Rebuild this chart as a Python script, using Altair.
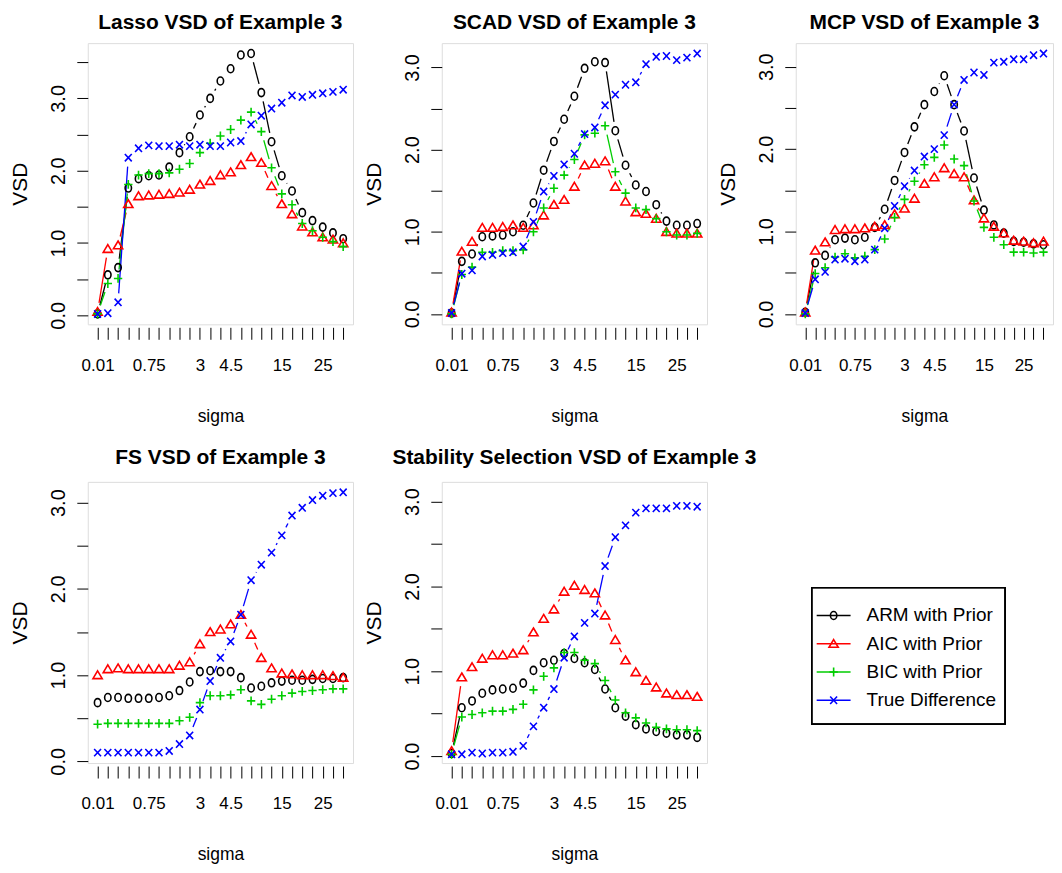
import math
import altair as alt
import pandas as pd

SERIES = ["ARM with Prior", "AIC with Prior", "BIC with Prior", "True Difference"]
COLORS = ["#000000", "#FF0000", "#00CD00", "#0000FF"]
SHAPES = [
    "M-0.8,0A0.8,1 0 1,0 0.8,0A0.8,1 0 1,0 -0.8,0Z",
    "M0,-1L1.1,0.85L-1.1,0.85Z",
    "M-0.95,0L0.95,0M0,-1L0,1",
    "M-0.75,-0.8L0.75,0.8M-0.75,0.8L0.75,-0.8",
]
SIZES = [64, 85, 100, 81]

# tick labels at the 25 sigma positions (only those R printed)
tick_labels = ["0.01", "", "", "", "", "0.75", "", "", "", "", "3", "", "", "4.5",
               "", "", "", "", "15", "", "", "", "25", "", ""]

lasso_arm = [0.02, 0.56, 0.66, 1.76, 1.89, 1.93, 1.94, 2.05, 2.25, 2.47, 2.77, 3.00, 3.24, 3.41, 3.60, 3.62, 3.08, 2.40, 1.93, 1.72, 1.42, 1.31, 1.22, 1.14, 1.06]
lasso_aic = [0.05, 0.92, 0.97, 1.54, 1.65, 1.66, 1.67, 1.68, 1.70, 1.74, 1.81, 1.86, 1.94, 1.98, 2.08, 2.19, 2.11, 1.79, 1.54, 1.40, 1.23, 1.15, 1.08, 1.05, 1.00]
lasso_bic = [0.02, 0.44, 0.51, 1.81, 1.94, 1.96, 1.96, 1.97, 2.02, 2.10, 2.25, 2.38, 2.48, 2.57, 2.70, 2.81, 2.54, 2.04, 1.68, 1.53, 1.27, 1.17, 1.08, 1.02, 0.95]
lasso_true = [0.02, 0.03, 0.18, 2.18, 2.31, 2.35, 2.34, 2.34, 2.36, 2.34, 2.36, 2.34, 2.34, 2.39, 2.41, 2.64, 2.76, 2.86, 2.94, 3.04, 3.02, 3.05, 3.07, 3.09, 3.12]

scad_arm = [0.01, 0.64, 0.73, 0.94, 0.95, 0.96, 1.00, 1.08, 1.35, 1.75, 2.10, 2.37, 2.65, 2.99, 3.07, 3.06, 2.23, 1.81, 1.57, 1.49, 1.33, 1.13, 1.08, 1.08, 1.10]
scad_aic = [0.02, 0.76, 0.88, 1.05, 1.05, 1.06, 1.08, 1.05, 1.08, 1.20, 1.33, 1.39, 1.55, 1.81, 1.83, 1.86, 1.55, 1.37, 1.24, 1.22, 1.16, 1.00, 0.98, 0.98, 0.98]
scad_bic = [0.00, 0.48, 0.57, 0.75, 0.75, 0.77, 0.77, 0.78, 1.00, 1.29, 1.53, 1.69, 1.88, 2.18, 2.20, 2.29, 1.73, 1.47, 1.29, 1.27, 1.16, 1.00, 0.96, 0.96, 0.98]
scad_true = [0.01, 0.49, 0.53, 0.70, 0.72, 0.74, 0.75, 0.82, 1.12, 1.49, 1.68, 1.82, 1.95, 2.19, 2.27, 2.54, 2.67, 2.79, 2.82, 3.04, 3.13, 3.14, 3.09, 3.12, 3.17]

mcp_arm = [0.02, 0.62, 0.71, 0.90, 0.92, 0.90, 0.93, 1.05, 1.27, 1.62, 1.96, 2.27, 2.54, 2.70, 2.89, 2.54, 2.22, 1.65, 1.26, 1.08, 0.98, 0.88, 0.87, 0.85, 0.84]
mcp_aic = [0.02, 0.77, 0.87, 1.02, 1.03, 1.03, 1.04, 1.06, 1.08, 1.21, 1.28, 1.40, 1.58, 1.66, 1.77, 1.70, 1.66, 1.38, 1.16, 1.06, 0.98, 0.89, 0.88, 0.86, 0.88]
mcp_bic = [0.00, 0.49, 0.56, 0.69, 0.73, 0.68, 0.70, 0.78, 0.91, 1.17, 1.39, 1.61, 1.81, 1.90, 2.05, 1.88, 1.80, 1.37, 1.05, 0.93, 0.84, 0.75, 0.75, 0.74, 0.75]
mcp_true = [0.01, 0.42, 0.51, 0.66, 0.67, 0.64, 0.66, 0.78, 1.04, 1.31, 1.55, 1.74, 1.91, 2.00, 2.17, 2.54, 2.84, 2.93, 2.90, 3.05, 3.06, 3.09, 3.09, 3.14, 3.16]

fs_arm = [0.68, 0.74, 0.74, 0.73, 0.73, 0.73, 0.74, 0.76, 0.82, 0.92, 1.04, 1.05, 1.04, 1.04, 0.97, 0.85, 0.87, 0.91, 0.93, 0.94, 0.94, 0.95, 0.96, 0.96, 0.97]
fs_aic = [1.00, 1.07, 1.08, 1.07, 1.07, 1.07, 1.07, 1.07, 1.11, 1.15, 1.36, 1.50, 1.53, 1.59, 1.70, 1.47, 1.20, 1.08, 1.02, 1.01, 1.00, 1.00, 1.00, 0.99, 0.97]
fs_bic = [0.43, 0.44, 0.44, 0.44, 0.44, 0.44, 0.44, 0.44, 0.47, 0.51, 0.68, 0.76, 0.76, 0.77, 0.83, 0.70, 0.66, 0.72, 0.76, 0.79, 0.81, 0.82, 0.83, 0.84, 0.84]
fs_true = [0.10, 0.10, 0.10, 0.10, 0.10, 0.10, 0.10, 0.12, 0.20, 0.30, 0.60, 0.93, 1.20, 1.39, 1.70, 2.10, 2.28, 2.42, 2.62, 2.85, 2.94, 3.03, 3.08, 3.11, 3.12]

ss_arm = [0.03, 0.57, 0.65, 0.74, 0.78, 0.79, 0.80, 0.86, 1.01, 1.10, 1.13, 1.21, 1.15, 1.10, 1.02, 0.79, 0.57, 0.47, 0.37, 0.32, 0.29, 0.27, 0.25, 0.25, 0.22]
ss_aic = [0.06, 0.93, 1.05, 1.15, 1.19, 1.19, 1.21, 1.25, 1.46, 1.62, 1.73, 1.94, 2.01, 1.96, 1.92, 1.66, 1.37, 1.13, 0.99, 0.89, 0.81, 0.74, 0.72, 0.72, 0.70]
ss_bic = [0.02, 0.46, 0.49, 0.51, 0.53, 0.53, 0.55, 0.61, 0.78, 0.94, 1.04, 1.22, 1.22, 1.13, 1.09, 0.89, 0.66, 0.51, 0.45, 0.39, 0.34, 0.32, 0.31, 0.31, 0.30]
ss_true = [0.02, 0.02, 0.04, 0.03, 0.04, 0.04, 0.05, 0.12, 0.35, 0.57, 0.79, 1.16, 1.41, 1.57, 1.68, 2.24, 2.58, 2.72, 2.87, 2.92, 2.92, 2.92, 2.95, 2.95, 2.94]
ss_ylim = [0.04, 3.11]  # y range used by the Stability Selection panel

FONT = "Liberation Sans, Arial, sans-serif"
H = 282
GAP = 9.0

color_scale = alt.Scale(domain=SERIES, range=COLORS)
shape_scale = alt.Scale(domain=SERIES, range=SHAPES)
size_scale = alt.Scale(domain=SERIES, range=SIZES)


def panel(title, values, width, toff, ylim=None):
    n = len(tick_labels)
    rows = []
    for s, vals in zip(SERIES, values):
        for i, v in enumerate(vals):
            rows.append({"series": s, "idx": i + 1, "vsd": v})
    pts = pd.DataFrame(rows)
    allv = [v for vals in values for v in vals]
    lo, hi = (min(allv), max(allv)) if ylim is None else (ylim[0], ylim[1])
    r = hi - lo
    ydom = [lo - 0.04 * r, hi + 0.04 * r]
    xdom = [1 - 0.04 * (n - 1), n + 0.04 * (n - 1)]
    px_x = width / (xdom[1] - xdom[0])
    px_y = H / (ydom[1] - ydom[0])
    segs = []
    for s, vals in zip(SERIES, values):
        for i in range(len(vals) - 1):
            v1, v2 = vals[i], vals[i + 1]
            L = math.hypot(px_x, (v2 - v1) * px_y)
            if L > 2 * GAP:
                t = GAP / L
                segs.append({"series": s, "x1": i + 1 + t, "y1": v1 + t * (v2 - v1),
                             "x2": i + 2 - t, "y2": v2 - t * (v2 - v1)})
    segs = pd.DataFrame(segs)
    yticks = [k * 0.5 for k in range(0, 9) if ydom[0] <= k * 0.5 <= ydom[1]]
    lab_arr = "[" + ",".join("'%s'" % t for t in tick_labels) + "]"
    xscale = alt.Scale(domain=xdom, nice=False, zero=False)
    yscale = alt.Scale(domain=ydom, nice=False, zero=False)

    def xaxis():
        return alt.Axis(values=list(range(1, n + 1)), labelExpr=lab_arr + "[datum.value-1]",
                        title="sigma", domain=False, grid=False, tickSize=12, offset=3,
                        tickColor="black", tickWidth=1, labelPadding=26, labelBaseline="middle",
                        labelFont=FONT, labelFontSize=17, labelColor="black",
                        labelOverlap=False, labelFlush=False, labelBound=False,
                        titleFont=FONT, titleFontSize=17.5, titleFontWeight="normal",
                        titleColor="black", titleBaseline="middle", titleY=89)

    def yaxis():
        return alt.Axis(values=yticks,
                        labelExpr="datum.value % 1 == 0 ? format(datum.value, '.1f') : ''",
                        labelAngle=270, labelAlign="center", labelBaseline="bottom",
                        tickSize=11, labelPadding=8, domain=False, grid=False,
                        tickColor="black", tickWidth=1,
                        labelFont=FONT, labelFontSize=20, labelColor="black",
                        labelOverlap=False,
                        title="VSD", titleAngle=270, titleX=-67, titleY=H / 2,
                        titleAlign="center", titleBaseline="middle",
                        titleFont=FONT, titleFontSize=21, titleFontWeight="normal",
                        titleColor="black")

    lines = alt.Chart(segs).mark_rule(strokeWidth=1.3).encode(
        x=alt.X("x1:Q", scale=xscale, axis=xaxis()),
        y=alt.Y("y1:Q", scale=yscale, axis=yaxis()),
        x2="x2:Q", y2="y2:Q",
        color=alt.Color("series:N", scale=color_scale, legend=None),
    )
    points = alt.Chart(pts).mark_point(filled=False, strokeWidth=1.6, opacity=1).encode(
        x=alt.X("idx:Q", scale=xscale, axis=xaxis()),
        y=alt.Y("vsd:Q", scale=yscale, axis=yaxis()),
        color=alt.Color("series:N", scale=color_scale, legend=None),
        shape=alt.Shape("series:N", scale=shape_scale, legend=None),
        size=alt.Size("series:N", scale=size_scale, legend=None),
    )
    return alt.layer(lines, points).properties(
        width=width, height=H,
        title=alt.TitleParams(title, font=FONT, fontSize=21, fontWeight="bold",
                              anchor="middle", baseline="alphabetic", offset=toff,
                              frame="group", color="black"),
    )


p1 = panel("Lasso VSD of Example 3", [lasso_arm, lasso_aic, lasso_bic, lasso_true], 266, -7)
p2 = panel("SCAD VSD of Example 3", [scad_arm, scad_aic, scad_bic, scad_true], 266, -7)
p3 = panel("MCP VSD of Example 3", [mcp_arm, mcp_aic, mcp_bic, mcp_true], 258, -7)
p4 = panel("FS VSD of Example 3", [fs_arm, fs_aic, fs_bic, fs_true], 266, -3)
p5 = panel("Stability Selection VSD of Example 3", [ss_arm, ss_aic, ss_bic, ss_true], 266, -3,
           ylim=ss_ylim)

leg_df = pd.DataFrame({"series": SERIES, "row": list(range(len(SERIES)))})
leg_y = alt.Y("row:Q", scale=alt.Scale(domain=[0, 3], range=[134, 219]), axis=None)
leg_box = alt.Chart(leg_df).mark_rect(fillOpacity=0, stroke="black", strokeWidth=1.3).encode(
    x=alt.value(16), x2=alt.value(210), y=alt.value(106), y2=alt.value(243))
leg_lines = alt.Chart(leg_df).mark_rule(strokeWidth=1.3).encode(
    x=alt.value(21), x2=alt.value(55), y=leg_y,
    color=alt.Color("series:N", scale=color_scale, legend=None))
leg_pts = alt.Chart(leg_df).mark_point(filled=False, strokeWidth=1.6, opacity=1).encode(
    x=alt.value(38), y=leg_y,
    color=alt.Color("series:N", scale=color_scale, legend=None),
    shape=alt.Shape("series:N", scale=shape_scale, legend=None),
    size=alt.Size("series:N", scale=size_scale, legend=None))
leg_text = alt.Chart(leg_df).mark_text(align="left", baseline="middle", font=FONT,
                                       fontSize=19, color="black").encode(
    x=alt.value(71), y=leg_y, text="series:N")
legend = alt.layer(leg_box, leg_lines, leg_pts, leg_text).properties(
    width=258, height=H, view=alt.ViewBackground(stroke="transparent"))

row1 = alt.hconcat(p1, p2, p3, spacing=89, bounds="flush")
row2 = alt.hconcat(p4, p5, legend, spacing=89, bounds="flush")
chart = alt.vconcat(row1, row2, spacing=21).properties(
    padding={"left": 1, "top": 2, "right": 0, "bottom": 0}
).configure_view(stroke="black", strokeWidth=1.5).configure(background="white")

chart.save("out.html", embed_options={"renderer": "svg", "actions": False})
